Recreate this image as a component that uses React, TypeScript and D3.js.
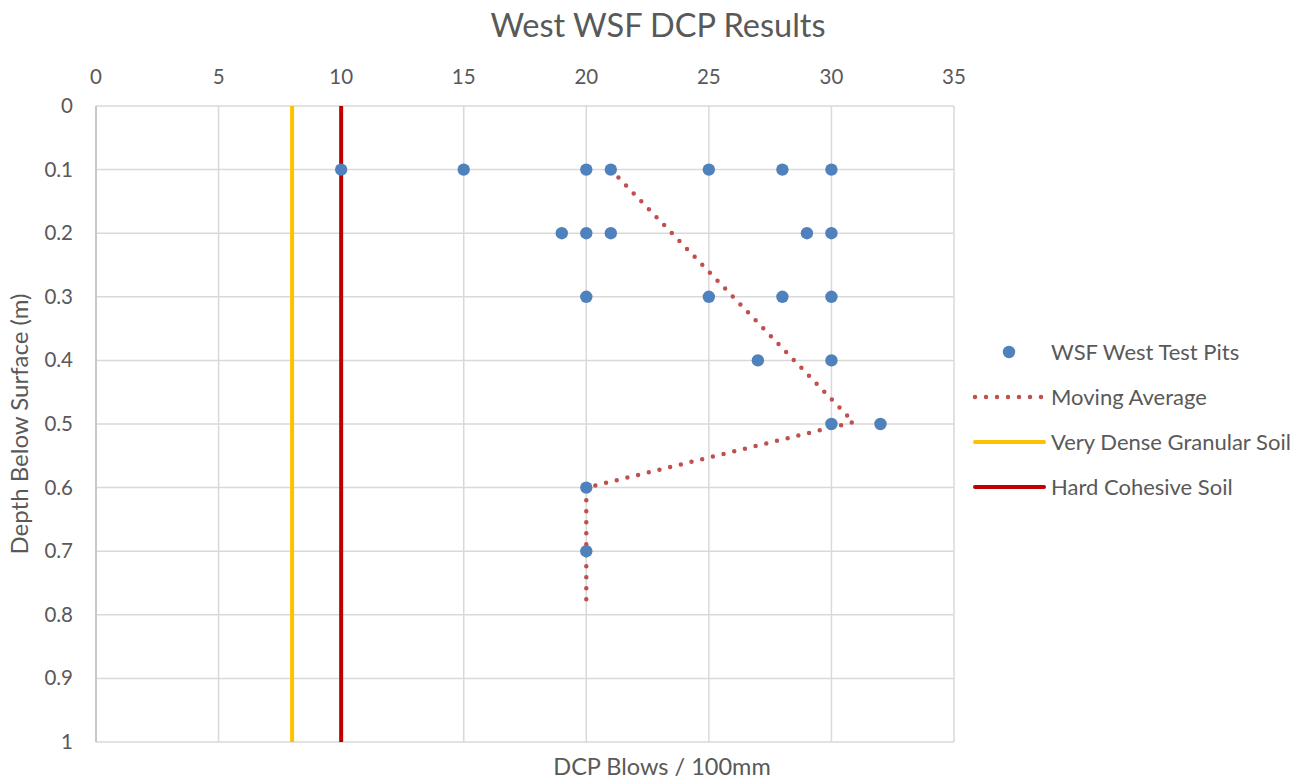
import React from "react";
import * as d3 from "d3";

const pitDepths = [0.1, 0.1, 0.1, 0.1, 0.1, 0.1, 0.1, 0.2, 0.2, 0.2, 0.2, 0.2, 0.3, 0.3, 0.3, 0.3, 0.4, 0.4, 0.5, 0.5, 0.6, 0.7];
const pitBlows = [10, 15, 20, 21, 25, 28, 30, 19, 20, 21, 29, 30, 20, 25, 28, 30, 27, 30, 30, 32, 20, 20];

const avgDepths = [0.1, 0.497, 0.6, 0.7, 0.79];
const avgBlows = [21, 30.9, 20, 20, 20];

const granularLimit = 8;
const cohesiveLimit = 10;

const xTicks = [0, 5, 10, 15, 20, 25, 30, 35];
const yTicks = [0, 0.1, 0.2, 0.3, 0.4, 0.5, 0.6, 0.7, 0.8, 0.9, 1];

const legendLabels = ["WSF West Test Pits", "Moving Average", "Very Dense Granular Soil", "Hard Cohesive Soil"];

const W = 1304;
const H = 782;
const FONT = "Lato, 'Open Sans', sans-serif";
const TXT = "#595959";
const GRID = "#d9d9d9";

export default function App() {
  const x = d3.scaleLinear().domain([0, 35]).range([96, 954]);
  const y = d3.scaleLinear().domain([0, 1]).range([106, 742]);

  const line = d3
    .line<number>()
    .x((d, i) => x(avgBlows[i]))
    .y((d) => y(d));

  return (
    <svg width={W} height={H} style={{ position: "absolute", left: 0, top: 0, background: "#fff" }} fontFamily={FONT}>
      <rect x={0} y={0} width={W} height={H} fill="#fff" />
      <text x={658} y={37} textAnchor="middle" fontSize={32.5} fill={TXT}>
        West WSF DCP Results
      </text>
      {/* grid */}
      {xTicks.map((t) => (
        <line key={"gx" + t} x1={x(t)} x2={x(t)} y1={y(0)} y2={y(1)} stroke={GRID} strokeWidth={1.5} />
      ))}
      {yTicks.map((t) => (
        <line key={"gy" + t} x1={x(0)} x2={x(35)} y1={y(t)} y2={y(t)} stroke={GRID} strokeWidth={1.5} />
      ))}
      <line x1={x(0)} x2={x(0)} y1={y(0)} y2={y(1)} stroke="#bfbfbf" strokeWidth={1.5} />
      {/* tick labels */}
      {xTicks.map((t) => (
        <text key={"tx" + t} x={x(t)} y={84} textAnchor="middle" fontSize={20.5} fill={TXT}>
          {t}
        </text>
      ))}
      {yTicks.map((t) => (
        <text key={"ty" + t} x={73} y={y(t) + 7} textAnchor="end" fontSize={20.5} fill={TXT}>
          {t}
        </text>
      ))}
      {/* threshold lines */}
      <line x1={x(granularLimit)} x2={x(granularLimit)} y1={y(0)} y2={y(1)} stroke="#FFC000" strokeWidth={4} />
      <line x1={x(cohesiveLimit)} x2={x(cohesiveLimit)} y1={y(0)} y2={y(1)} stroke="#C00000" strokeWidth={4} />
      {/* moving average */}
      <path
        d={line(avgDepths) || ""}
        fill="none"
        stroke="#C0504D"
        strokeWidth={4.5}
        strokeDasharray="0 11"
        strokeLinecap="round"
        strokeLinejoin="round"
      />
      {/* points */}
      {pitDepths.map((d, i) => (
        <circle key={"p" + i} cx={x(pitBlows[i])} cy={y(d)} r={6.2} fill="#4F81BD" />
      ))}
      {/* axis titles */}
      <text x={662} y={775} textAnchor="middle" fontSize={23.5} fill={TXT}>
        DCP Blows / 100mm
      </text>
      <text transform={`translate(28,${y(0.5)}) rotate(-90)`} textAnchor="middle" fontSize={24} fill={TXT}>
        Depth Below Surface (m)
      </text>
      {/* legend */}
      {legendLabels.map((lab, i) => {
        const ly = 352 + i * 45;
        return (
          <g key={"lg" + i}>
            {i === 0 && <circle cx={1009} cy={ly} r={6.2} fill="#4F81BD" />}
            {i === 1 && (
              <line x1={975} x2={1044} y1={ly} y2={ly} stroke="#C0504D" strokeWidth={4.5} strokeDasharray="0 11" strokeLinecap="round" />
            )}
            {i === 2 && <line x1={975} x2={1044} y1={ly} y2={ly} stroke="#FFC000" strokeWidth={4} strokeLinecap="round" />}
            {i === 3 && <line x1={975} x2={1044} y1={ly} y2={ly} stroke="#C00000" strokeWidth={4} strokeLinecap="round" />}
            <text x={1051} y={ly + 8} fontSize={22} fill={TXT}>
              {lab}
            </text>
          </g>
        );
      })}
    </svg>
  );
}
